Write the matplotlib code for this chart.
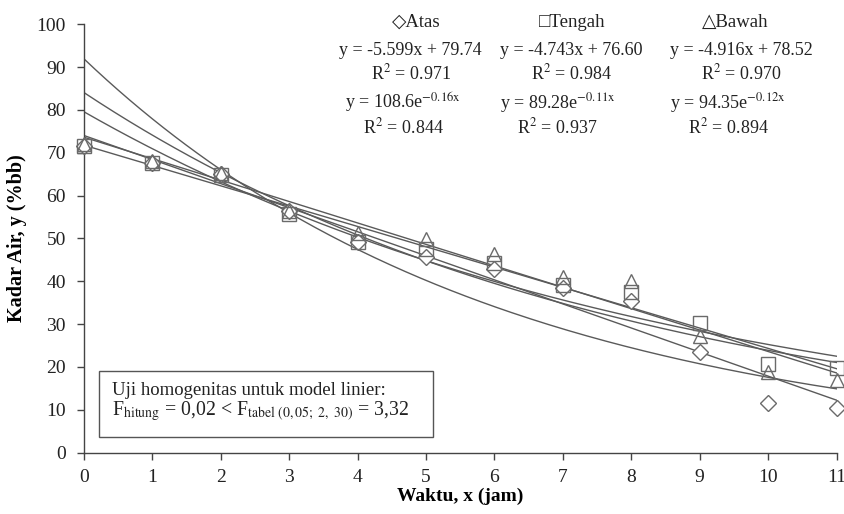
import numpy as np
import matplotlib
matplotlib.use('Agg')
import matplotlib.pyplot as plt
from matplotlib.patches import Rectangle

plt.rcParams['font.family'] = ['Liberation Serif', 'DejaVu Serif']
plt.rcParams['mathtext.fontset'] = 'stix'

# data: kadar air (%bb) per jam
waktu = [0, 1, 2, 3, 4, 5, 6, 7, 8, 9, 10, 11]
atas = [71.5, 67.5, 65.0, 56.5, 49.2, 45.7, 42.8, 38.4, 35.4, 23.6, 11.6, 10.4]
tengah = [71.5, 67.5, 64.8, 55.8, 49.2, 47.6, 44.2, 39.1, 37.6, 30.3, 20.7, 19.8]
bawah = [72.0, 68.0, 65.3, 56.5, 51.2, 49.8, 46.3, 41.1, 40.0, 27.2, 18.9, 17.0]

nama = ['Atas', 'Tengah', 'Bawah']
simbol = ['\u25c7', '\u25a1', '\u25b3']
persamaan_lin = ['y = -5.599x + 79.74', 'y = -4.743x + 76.60', 'y = -4.916x + 78.52']
r2_lin = ['0.971', '0.984', '0.970']
persamaan_exp = [r'y = 108.6e$^{\mathrm{-0.16x}}$', r'y = 89.28e$^{\mathrm{-0.11x}}$',
                 r'y = 94.35e$^{\mathrm{-0.12x}}$']
r2_exp = ['0.844', '0.937', '0.894']

abu = '#6a6a6a'
garis = '#5a5a5a'

fig = plt.figure(figsize=(8.45, 5.14), dpi=100)
ax = fig.add_axes([0.0994, 0.1193, 0.8906, 0.8337])

x = np.array(waktu, dtype=float)
xx = np.linspace(0, 11, 200)
# trendline ala Excel (x dihitung 1..n)
for seri in [atas, tengah, bawah]:
    y = np.array(seri)
    b, a = np.polyfit(x + 1, y, 1)
    ax.plot(xx, a + b * (xx + 1), color=garis, lw=1.0, zorder=2)
    k, la = np.polyfit(x + 1, np.log(y), 1)
    ax.plot(xx, np.exp(la) * np.exp(k * (xx + 1)), color=garis, lw=1.0, zorder=2)

ax.plot(waktu, atas, ls='none', marker='D', ms=8.5, mfc='white', mec=abu, mew=1.0,
        zorder=3, clip_on=False)
ax.plot(waktu, tengah, ls='none', marker='s', ms=9.5, mfc='none', mec=abu, mew=1.0,
        zorder=4, clip_on=False)
ax.plot(waktu, bawah, ls='none', marker='^', ms=10, mfc='none', mec=abu, mew=1.0,
        zorder=5, clip_on=False)

ax.set_xlim(0, 11)
ax.set_ylim(0, 100)
ax.set_xticks(range(0, 12))
ax.set_yticks(range(0, 101, 10))
ax.spines['top'].set_visible(False)
ax.spines['right'].set_visible(False)
for s in ['left', 'bottom']:
    ax.spines[s].set_color('#444444')
    ax.spines[s].set_linewidth(1.0)
ax.tick_params(direction='out', length=5, width=1.0, color='#444444',
               labelsize=14, labelcolor='#222222')
ax.tick_params(axis='x', pad=7)
ax.tick_params(axis='y', pad=8)
ax.set_xlabel('Waktu, x (jam)', fontsize=14, fontweight='bold', labelpad=1)
ax.set_ylabel('Kadar Air, y (%bb)', fontsize=14.5, fontweight='bold', labelpad=7)

# legenda dan persamaan
leg_x = [0.441, 0.649, 0.865]
lin_x = [0.434, 0.648, 0.873]
exp_x = [0.424, 0.629, 0.856]
for i in range(3):
    ax.text(leg_x[i], 1.005, simbol[i] + nama[i], transform=ax.transAxes,
            ha='center', va='center', fontsize=13.5, color='#222222',
            family=['Liberation Serif', 'DejaVu Sans'])
    ax.text(lin_x[i], 0.939, persamaan_lin[i], transform=ax.transAxes,
            ha='center', va='center', fontsize=13, color='#222222')
    ax.text(lin_x[i], 0.886, 'R$^2$ = ' + r2_lin[i], transform=ax.transAxes,
            ha='center', va='center', fontsize=13, color='#222222')
    ax.text(exp_x[i], 0.816, persamaan_exp[i], transform=ax.transAxes,
            ha='center', va='center', fontsize=13, color='#222222')
    ax.text(exp_x[i], 0.760, 'R$^2$ = ' + r2_exp[i], transform=ax.transAxes,
            ha='center', va='center', fontsize=13, color='#222222')

# kotak uji homogenitas
ax.add_patch(Rectangle((0.020, 0.0366), 0.444, 0.154, transform=ax.transAxes,
                       fill=True, fc='white', ec='#555555', lw=1.0, zorder=6))
ax.text(0.037, 0.1346, 'Uji homogenitas untuk model linier:', transform=ax.transAxes,
        ha='left', va='baseline', fontsize=13.5, color='#222222', zorder=7)
ax.text(0.037, 0.088,
        r'F$_{\mathrm{hitung}}$ = 0,02 < F$_{\mathrm{tabel\ (0,05;\ 2,\ 30)}}$ = 3,32',
        transform=ax.transAxes, ha='left', va='baseline', fontsize=14.2,
        color='#222222', zorder=7)

fig.savefig('out.png', dpi=100)
